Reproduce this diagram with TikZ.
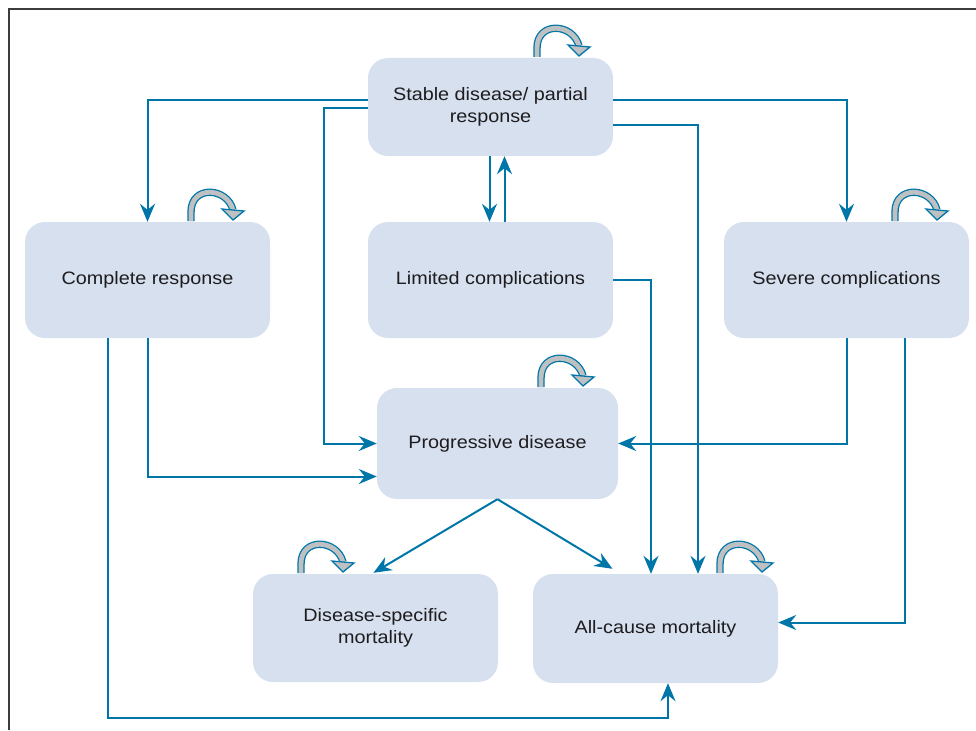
\documentclass[tikz,border=0pt]{standalone}
\usepackage{fontspec}
\setmainfont{Liberation Sans}[FakeStretch=1.1]
\usetikzlibrary{arrows.meta,calc}
\definecolor{boxblue}{RGB}{214,224,238}
\definecolor{conncol}{RGB}{0,118,168}
\definecolor{loopgray}{RGB}{190,192,194}
\definecolor{txtcol}{RGB}{30,28,30}
\definecolor{bordercol}{RGB}{60,60,60}
\tikzset{
  statebox/.style={fill=boxblue, rounded corners=20pt, align=center, inner sep=0pt,
    font=\fontsize{18}{22}\selectfont, text=txtcol},
  conn/.style={draw=conncol, line width=2pt,
    -{Stealth[length=18pt,width=15pt,inset=6pt]}},
  loopband/.style={draw=conncol, line width=1.3pt, double=loopgray, double distance=4.8pt},
  loophead/.style={fill=loopgray, draw=conncol, line width=1.3pt, line join=miter},
  selfloop/.pic={
    \draw[loopband] (4,-1) -- (4,-10) .. controls (4,-37) and (40,-35) .. (46,-12);
    \filldraw[loophead] (35,-13) -- (57,-11) -- (46,-2) -- cycle;
  }
}
\begin{document}
\begin{tikzpicture}[x=1pt,y=-1pt]
\useasboundingbox (0,0) rectangle (976,730);
\draw[line width=1.8pt, draw=bordercol] (9,730) -- (9,9) -- (976,9);

% states
\node[statebox, minimum width=245pt, minimum height=98pt] (stable) at (490.5,107) {Stable disease/ partial\\response};
\node[statebox, minimum width=245pt, minimum height=116pt] (complete) at (147.5,280) {Complete response};
\node[statebox, minimum width=245pt, minimum height=116pt] (limited) at (490.5,280) {Limited complications};
\node[statebox, minimum width=245pt, minimum height=116pt] (severe) at (846.5,280) {Severe complications};
\node[statebox, minimum width=241pt, minimum height=111pt] (progressive) at (497.5,443.5) {Progressive disease};
\node[statebox, minimum width=245pt, minimum height=108pt] (dsm) at (375.5,628) {Disease-specific\\mortality};
\node[statebox, minimum width=245pt, minimum height=109pt] (acm) at (655.5,628.5) {All-cause mortality};

% transitions
\draw[conn] ($(stable.west)+(0,-7)$) -| (complete.north);
\draw[conn] ($(stable.west)+(0,1)$) -- ++(-44,0) |- (progressive.west);
\draw[conn] ($(stable.south)+(-1,0)$) -- ($(limited.north)+(-1,0)$);
\draw[conn] ($(limited.north)+(14,0)$) -- ($(stable.south)+(14,0)$);
\draw[conn] ($(stable.east)+(0,-7)$) -| (severe.north);
\draw[conn] ($(stable.east)+(0,18)$) -| ($(acm.north)+(42.5,0)$);
\draw[conn] (limited.east) -| ($(acm.north)+(-4.5,0)$);
\draw[conn] (complete.south) |- ($(progressive.west)+(0,33)$);
\draw[conn] ($(complete.south)+(-40,0)$) -- ++(0,380) -| ($(acm.south)+(12.5,0)$);
\draw[conn] (severe.south) |- (progressive.east);
\draw[conn] ($(severe.south)+(58.5,0)$) |- ($(acm.east)+(0,-6)$);
\draw[conn] (progressive.south) -- ($(dsm.north)+(-2,-1)$);
\draw[conn] (progressive.south) -- ($(acm.north)+(-43,-5)$);

% self transitions
\pic at (533,58) {selfloop};
\pic at (187,222) {selfloop};
\pic at (891,222) {selfloop};
\pic at (537,388) {selfloop};
\pic at (297,574) {selfloop};
\pic at (716,574) {selfloop};
\end{tikzpicture}
\end{document}
